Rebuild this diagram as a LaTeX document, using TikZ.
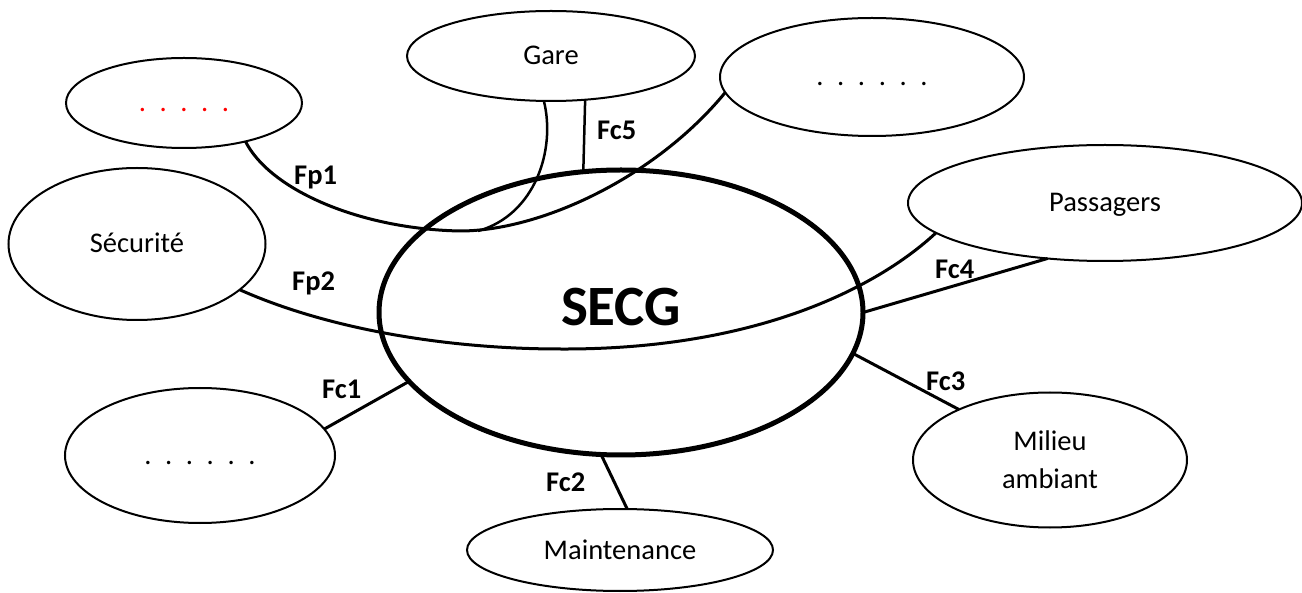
\documentclass[tikz,border=0pt]{standalone}
\usepackage{fontspec}
\setmainfont{Carlito}
\usetikzlibrary{shapes.geometric}
\newcommand\mydotgap{\hspace{13.6pt}}
\newcommand\mylbl{\fontsize{28.5pt}{38pt}\selectfont}
\begin{document}
\begin{tikzpicture}[x=1pt,y=-1pt,
  ellbase/.style={draw, ellipse, line width=2pt, inner sep=0pt, outer sep=0pt, font=\mylbl},
  ell/.style={ellbase, text height=18pt, text depth=0pt},
  conn/.style={line width=3pt},
  thinconn/.style={line width=2.5pt},
  fc/.style={font=\mylbl\bfseries, inner sep=0pt, anchor=base west}]
\useasboundingbox (0,0) rectangle (1302,593);
% nodes
\node[ell, minimum width=236pt, minimum height=90pt] (red) at (184,103)
  {\textcolor{red}{.\mydotgap.\mydotgap.\mydotgap.\mydotgap.}};
\node[ell, minimum width=257pt, minimum height=152pt] (secu) at (137,244) {Sécurité};
\node[ell, minimum width=288pt, minimum height=90pt] (gare) at (551,56) {Gare};
\node[ell, minimum width=304pt, minimum height=118pt] (tr) at (872,77)
  {.\mydotgap.\mydotgap.\mydotgap.\mydotgap.\mydotgap.};
\node[ell, minimum width=394pt, minimum height=116pt] (pass) at (1105,203) {Passagers};
\node[ellbase, align=center, minimum width=274pt, minimum height=135pt] (mil) at (1050,460) {Milieu\\ambiant};
\node[ell, minimum width=306pt, minimum height=82pt] (maint) at (620,550) {Maintenance};
\node[ell, minimum width=270pt, minimum height=135pt] (bl) at (200,455.5)
  {.\mydotgap.\mydotgap.\mydotgap.\mydotgap.\mydotgap.};
\node[ellbase, line width=5pt, minimum width=484pt, minimum height=285pt,
  font=\fontsize{57pt}{68pt}\selectfont\bfseries, text height=36pt, text depth=10pt] (secg) at (621,312.5) {SECG};
% connectors
\coordinate (fp1low) at (460,231);
\coordinate (gj) at (478,231);
\coordinate (fp2low) at (560,349);
\draw[conn] (red.-32) .. controls (270,190) and (360,229) .. (fp1low)
  .. controls (540,231) and (655,178) .. (tr.-174);
\draw[thinconn] (gare.-99) .. controls (556,150) and (535,215) .. (gj);
\draw[thinconn] (gare.-52) -- (secg.105);
\draw[conn] (secu.-24.5) .. controls (330,330) and (450,349) .. (fp2low)
  .. controls (760,350) and (880,285) .. (pass.-170);
\draw[conn] (secg.0) -- (pass.-136);
\draw[conn] (secg.-10.9) -- (mil.151);
\draw[conn] (secg.-98.4) -- (maint.80);
\draw[conn] (secg.-162.6) -- (bl.12.4);
% labels
\node[fc] (lfp1) at (294,185) {Fp1};
\node[fc] (lfp2) at (292,291) {Fp2};
\node[fc] (lfc5) at (597,140) {Fc5};
\node[fc] (lfc4) at (935,279) {Fc4};
\node[fc] (lfc3) at (926,391) {Fc3};
\node[fc] (lfc2) at (546,492) {Fc2};
\node[fc] (lfc1) at (322,399) {Fc1};
\end{tikzpicture}
\end{document}
